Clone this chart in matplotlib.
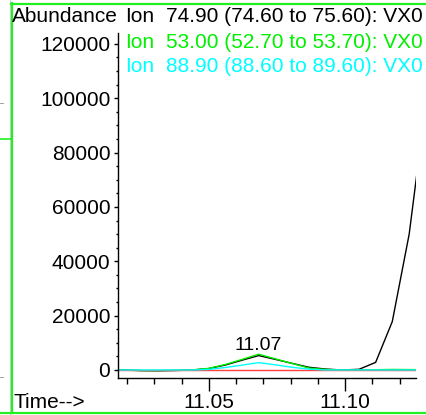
import matplotlib
matplotlib.use('Agg')
import matplotlib.pyplot as plt
from matplotlib.lines import Line2D
from matplotlib.ticker import MultipleLocator, FixedLocator

plt.rcParams['font.family'] = ['Liberation Sans', 'DejaVu Sans']

# retention time (min) of each scan
scan_times = [11.0132, 11.0193, 11.0254, 11.0315, 11.0377, 11.0438, 11.0499,
              11.0560, 11.0622, 11.0683, 11.0744, 11.0805, 11.0867, 11.0928,
              11.0989, 11.1051, 11.1112, 11.1173, 11.1235, 11.1296]

# extracted ion abundances
ion_74 = [150, 0, -250, -300, -200, 0, 500, 1800, 3600, 5300, 3900, 2450,
          1000, 350, 0, 250, 2800, 17800, 50000, 98000]
ion_53 = [100, -100, -200, -200, -100, 0, 600, 2000, 3900, 5800, 4100, 2400,
          700, 200, 0, 0, 100, 200, 150, 100]
ion_89 = [0, 0, 0, 0, 0, 0, 200, 900, 1800, 2700, 1900, 1000, 300, 0, 0, 0,
          0, 0, 0, 0]
ion_other = [-150] * len(scan_times)

ion_ranges = ['74.90 (74.60 to 75.60): VX0',
              '53.00 (52.70 to 53.70): VX0',
              '88.90 (88.60 to 89.60): VX0']
ion_colors = ['black', '#00f000', '#00ffff']

peak_time = 11.0683
peak_label = '11.07'

FS = 15
W, H = 426, 415
fig = plt.figure(figsize=(W / 100, H / 100), dpi=100)
ax = fig.add_axes([118 / W, 1 - 378 / H, (416 - 118) / W, (378 - 33) / H])

ax.plot(scan_times, ion_74, color=ion_colors[0], lw=1.0)
ax.plot(scan_times, ion_53, color=ion_colors[1], lw=1.0)
ax.plot(scan_times, ion_other, color='#ff4040', lw=1.0)
ax.plot(scan_times, ion_89, color=ion_colors[2], lw=1.0)

ax.text(peak_time, 7400, peak_label, ha='center', va='baseline', fontsize=14,
        family=['Liberation Sans Narrow', 'Liberation Sans'])

ax.set_xlim(11.0167, 11.126)
ax.set_ylim(-2950, 124000)
for s in ['top', 'right']:
    ax.spines[s].set_visible(False)
for s in ['left', 'bottom']:
    ax.spines[s].set_linewidth(1.0)

ax.yaxis.set_major_locator(FixedLocator(range(0, 120001, 20000)))
ax.yaxis.set_minor_locator(MultipleLocator(5000))
ax.set_yticklabels([str(v) for v in range(0, 120001, 20000)])
ax.xaxis.set_major_locator(FixedLocator([11.05, 11.10]))
ax.xaxis.set_minor_locator(MultipleLocator(0.01))
ax.set_xticklabels(['11.05', '11.10'])

ax.tick_params(axis='y', which='major', length=3, width=1, pad=2.5, labelsize=FS)
ax.tick_params(axis='y', which='minor', length=1.5, width=1)
ax.tick_params(axis='x', which='major', length=9, width=1, pad=1.5, labelsize=FS)
ax.tick_params(axis='x', which='minor', length=4.5, width=1)

fig.text(12 / W, 1 - 17 / H, 'Abundance', fontsize=FS, va='center', ha='left')
for i, (rng, col) in enumerate(zip(ion_ranges, ion_colors)):
    y = 1 - (17 + 25 * i) / H
    fig.text(125 / W, y, 'Ion', color=col, fontsize=FS, va='center', ha='left')
    fig.text(166 / W, y, rng, color=col, fontsize=FS, va='center', ha='left')
fig.text(13 / W, 1 - 402 / H, 'Time-->', fontsize=FS, va='center', ha='left')

# frame lines around the panel
def px_line(xs, ys, color, lw):
    fig.add_artist(Line2D([x / W for x in xs], [1 - y / H for y in ys],
                          color=color, lw=lw, transform=fig.transFigure))

green = '#22f022'
px_line([9.5, 9.5], [0, H], '#c8c8c8', 0.6)
px_line([11.5, 11.5], [3, 413], green, 1.6)
px_line([11, W], [4, 4], green, 1.6)
px_line([0, W], [413, 413], green, 1.6)
px_line([0, 11], [139, 139], green, 1.2)
px_line([0, 2.5], [103, 103], '#909090', 0.6)
px_line([0, 2.5], [377, 377], '#909090', 0.6)

fig.savefig('out.png', dpi=100)
